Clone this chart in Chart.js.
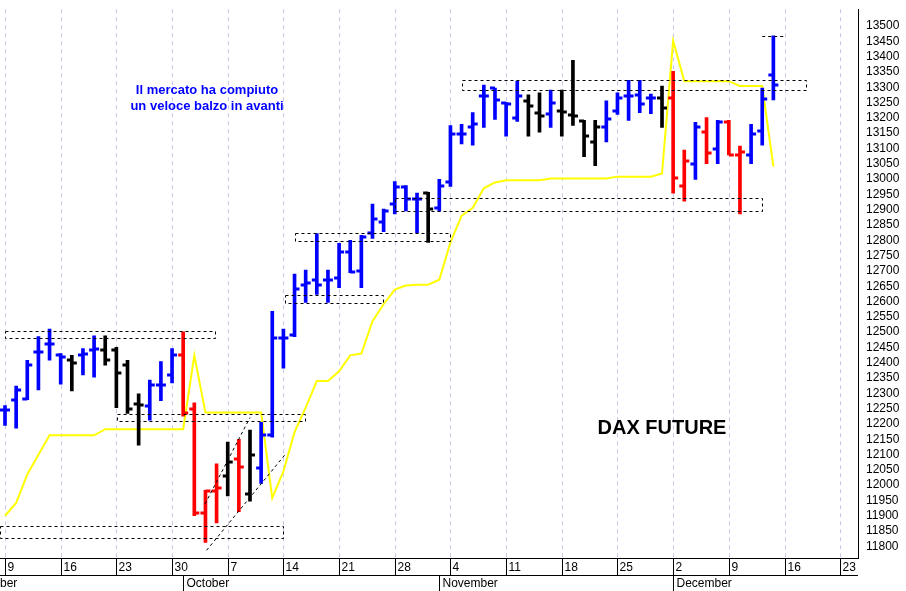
<!DOCTYPE html>
<html>
<head>
<meta charset="utf-8">
<script src="https://cdn.jsdelivr.net/npm/chart.js@4.4.0/dist/chart.umd.min.js"></script>
<style>
  html, body { margin: 0; padding: 0; background: #fff; }
  #wrap { width: 906px; height: 591px; }
</style>
</head>
<body>
<div id="wrap"><canvas id="c" width="906" height="591"></canvas></div>
<script>
// trading day index 0 = Monday 9 September
const opens  = [12245,12279,12280,12436,12462,12424,12408,12424,12440,12440,12440,12392,12266,12257,12327,12360,12424,12250,11910,11980,
                12029,12086,11970,12057,12163,12480,12490,12655,12671,12671,12677,12761,12700,12825,12860,12920,12975,12935,12955,12905,
                12992,13147,13169,13272,13297,13250,13200,13255,13215,13214,13224,13208,13190,13121,13170,13224,13272,13275,13266,13266,
                13266,12976,13050,13153,13098,13185,13080,13079,13156,13339];
const highs  = [12260,12324,12408,12485,12510,12430,12424,12446,12488,12488,12450,12408,12298,12343,12404,12446,12501,12269,11983,12070,
                12141,12150,12180,12205,12568,12510,12690,12703,12822,12703,12790,12800,12816,12918,12902,12992,12979,12954,12957,12999,
                13175,13179,13217,13307,13297,13250,13320,13275,13282,13291,13291,13388,13192,13192,13256,13282,13323,13323,13278,13304,
                13352,13095,13185,13201,13192,13192,13108,13179,13297,13468];
const lows   = [12195,12186,12279,12311,12408,12330,12308,12360,12353,12392,12253,12234,12131,12212,12276,12334,12225,11900,11813,11877,
                11965,11913,11948,12006,12157,12382,12485,12597,12623,12597,12645,12694,12645,12806,12828,12886,12896,12825,12793,12896,
                12976,13115,13111,13169,13195,13140,13188,13140,13153,13169,13140,13175,13073,13044,13121,13211,13192,13217,13214,13169,
                12954,12928,12999,13050,13050,13079,12886,13050,13111,13259];
const closes = [12245,12311,12392,12436,12460,12418,12398,12430,12444,12408,12366,12250,12263,12327,12327,12424,12237,11910,11980,11990,
                12077,12060,12099,12163,12481,12480,12640,12660,12655,12671,12761,12697,12810,12870,12895,12975,12935,12935,12902,12976,
                13147,13147,13179,13272,13259,13245,13270,13240,13205,13250,13220,13205,13140,13169,13195,13266,13272,13246,13266,13233,
                13002,13060,13170,13085,13185,13080,13090,13147,13262,13307];
const barColors = 'bbbbbb' + 'k' + 'bb' + 'kkkk' + 'bbb' + 'rrrr' + 'krk' + 'bbbbbbbbbbbbbbb' + 'k' + 'bbbbbbbb' +
                  'kk' + 'b' + 'kkkk' + 'bbbbb' + 'k' + 'rr' + 'brbrr' + 'bbb';
const yellow = [11900,11942,12035,12099,12163,12163,12163,12163,12163,12183,12183,12183,12183,12183,12183,12183,12183,12424,12237,12237,
                12237,12237,12237,12237,11958,12045,12173,12253,12340,12340,12372,12424,12430,12536,12591,12639,12652,12655,12655,12671,
                12793,12880,12906,12970,12989,12996,12996,12996,12996,13002,13002,13002,13002,13002,13002,13008,13008,13008,13008,13018,
                13452,13320,13320,13320,13320,13320,13304,13304,13304,13041];
// dashed boxes: [startIdx, endIdx, top, bottom]
const boxes = [[0,18.9,12504,12482],[10.06,26.95,12234,12208],[-0.45,24.98,11865,11826],[25.16,33.96,12620,12594],
               [26.06,40.0,12825,12797],[35.04,68.0,12938,12896],[41.06,71.97,13323,13291]];
const topLine = [68, 69.9, 13468];
const channelUpper = [[17.97,11939],[22,12221]];
const channelLower = [[18.1,11787],[25.2,12102]];
const weekDays = ['9','16','23','30','7','14','21','28','4','11','18','25','2','9','16','23'];
const months = [['ber',-0.5],['October',16],['November',39],['December',60]];

const colorMap = { b: '#0000ff', k: '#000000', r: '#ff0000' };
const cols = barColors.split('').map(c => colorMap[c]);

const ohlcPlugin = {
  id: 'ohlc',
  beforeDatasetsDraw(chart) {
    const { ctx, chartArea: a, scales: { x } } = chart;
    ctx.save();
    ctx.strokeStyle = '#c8c8ec';
    ctx.lineWidth = 1;
    ctx.setLineDash([4, 4]);
    weekDays.forEach((d, i) => {
      const px = Math.round(x.getPixelForValue(i * 5)) + 0.5;
      ctx.beginPath(); ctx.moveTo(px, a.top); ctx.lineTo(px, a.bottom); ctx.stroke();
    });
    ctx.restore();
  },
  afterDatasetsDraw(chart) {
    const { ctx, chartArea: a, scales: { x, y } } = chart;
    ctx.save();
    // open / close ticks
    ctx.lineWidth = 3;
    opens.forEach((o, i) => {
      const px = x.getPixelForValue(i);
      ctx.strokeStyle = cols[i];
      const yo = Math.round(y.getPixelForValue(o));
      const yc = Math.round(y.getPixelForValue(closes[i]));
      ctx.beginPath(); ctx.moveTo(px - 5, yo); ctx.lineTo(px, yo); ctx.stroke();
      ctx.beginPath(); ctx.moveTo(px, yc); ctx.lineTo(px + 5, yc); ctx.stroke();
    });
    // dashed boxes
    ctx.lineWidth = 1;
    ctx.strokeStyle = '#000';
    ctx.setLineDash([3, 3]);
    boxes.forEach(b => {
      const x0 = Math.round(x.getPixelForValue(b[0])) + 0.5, x1 = Math.round(x.getPixelForValue(b[1])) + 0.5;
      const y0 = Math.round(y.getPixelForValue(b[2])) + 0.5, y1 = Math.round(y.getPixelForValue(b[3])) + 0.5;
      ctx.strokeRect(x0, y0, x1 - x0, y1 - y0);
    });
    const ty = Math.round(y.getPixelForValue(topLine[2])) + 0.5;
    ctx.beginPath(); ctx.moveTo(x.getPixelForValue(topLine[0]), ty); ctx.lineTo(x.getPixelForValue(topLine[1]), ty); ctx.stroke();
    [channelUpper, channelLower].forEach(l => {
      ctx.beginPath();
      ctx.moveTo(x.getPixelForValue(l[0][0]), y.getPixelForValue(l[0][1]));
      ctx.lineTo(x.getPixelForValue(l[1][0]), y.getPixelForValue(l[1][1]));
      ctx.stroke();
    });
    ctx.setLineDash([]);
    // texts
    ctx.fillStyle = '#0000ff';
    ctx.font = 'bold 13px Arial, "Liberation Sans"';
    ctx.textAlign = 'center';
    ctx.textBaseline = 'middle';
    ctx.fillText('Il mercato ha compiuto', 207, 90);
    ctx.fillText('un veloce balzo in avanti', 207, 106);
    ctx.fillStyle = '#000';
    ctx.font = 'bold 20px Arial, "Liberation Sans"';
    ctx.fillText('DAX FUTURE', 662, 428);
    // bottom axis
    ctx.lineWidth = 1;
    ctx.beginPath();
    ctx.moveTo(0, a.bottom + 0.5); ctx.lineTo(a.right, a.bottom + 0.5);
    ctx.moveTo(0, a.bottom + 17.5); ctx.lineTo(a.right, a.bottom + 17.5);
    ctx.stroke();
    ctx.font = '12px Arial, "Liberation Sans"';
    ctx.textAlign = 'left';
    weekDays.forEach((d, i) => {
      const px = Math.round(x.getPixelForValue(i * 5)) + 0.5;
      ctx.beginPath(); ctx.moveTo(px, a.bottom); ctx.lineTo(px, a.bottom + 17); ctx.stroke();
      ctx.fillText(d, px + 2, a.bottom + 10);
    });
    months.forEach(m => {
      const px = Math.round(x.getPixelForValue(m[1])) + 0.5;
      if (m[1] >= 0) { ctx.beginPath(); ctx.moveTo(px, a.bottom + 17); ctx.lineTo(px, a.bottom + 33); ctx.stroke(); }
      ctx.fillText(m[0], m[1] >= 0 ? px + 3 : 0, a.bottom + 26);
    });
    ctx.restore();
  }
};

new Chart(document.getElementById('c'), {
  data: {
    datasets: [
      {
        type: 'line',
        data: yellow.map((v, i) => ({ x: i, y: v })),
        borderColor: '#ffff00',
        borderWidth: 2,
        pointRadius: 0,
        tension: 0,
        order: 2
      },
      {
        type: 'bar',
        data: highs.map((h, i) => ({ x: i, y: [lows[i], h] })),
        backgroundColor: cols,
        barThickness: 3,
        order: 1
      }
    ]
  },
  options: {
    responsive: false,
    animation: false,
    layout: { padding: { top: 0, left: 0, right: 0, bottom: 33 } },
    plugins: { legend: { display: false }, tooltip: { enabled: false } },
    scales: {
      x: {
        type: 'linear',
        min: -0.45,
        max: 76.6,
        display: false,
        offset: false
      },
      y: {
        position: 'right',
        min: 11762,
        max: 13555,
        afterFit(s) { s.width = 48; },
        afterBuildTicks(s) {
          const t = [];
          for (let v = 11800; v <= 13500; v += 50) t.push({ value: v });
          s.ticks = t;
        },
        grid: { display: false, drawTicks: true, tickLength: 6, color: '#000' },
        border: { display: true, color: '#000', width: 1 },
        ticks: {
          color: '#000',
          font: { family: 'Arial, "Liberation Sans"', size: 12 },
          padding: 2,
          autoSkip: false,
          callback: v => String(v)
        }
      }
    }
  },
  plugins: [ohlcPlugin]
});
</script>
</body>
</html>
